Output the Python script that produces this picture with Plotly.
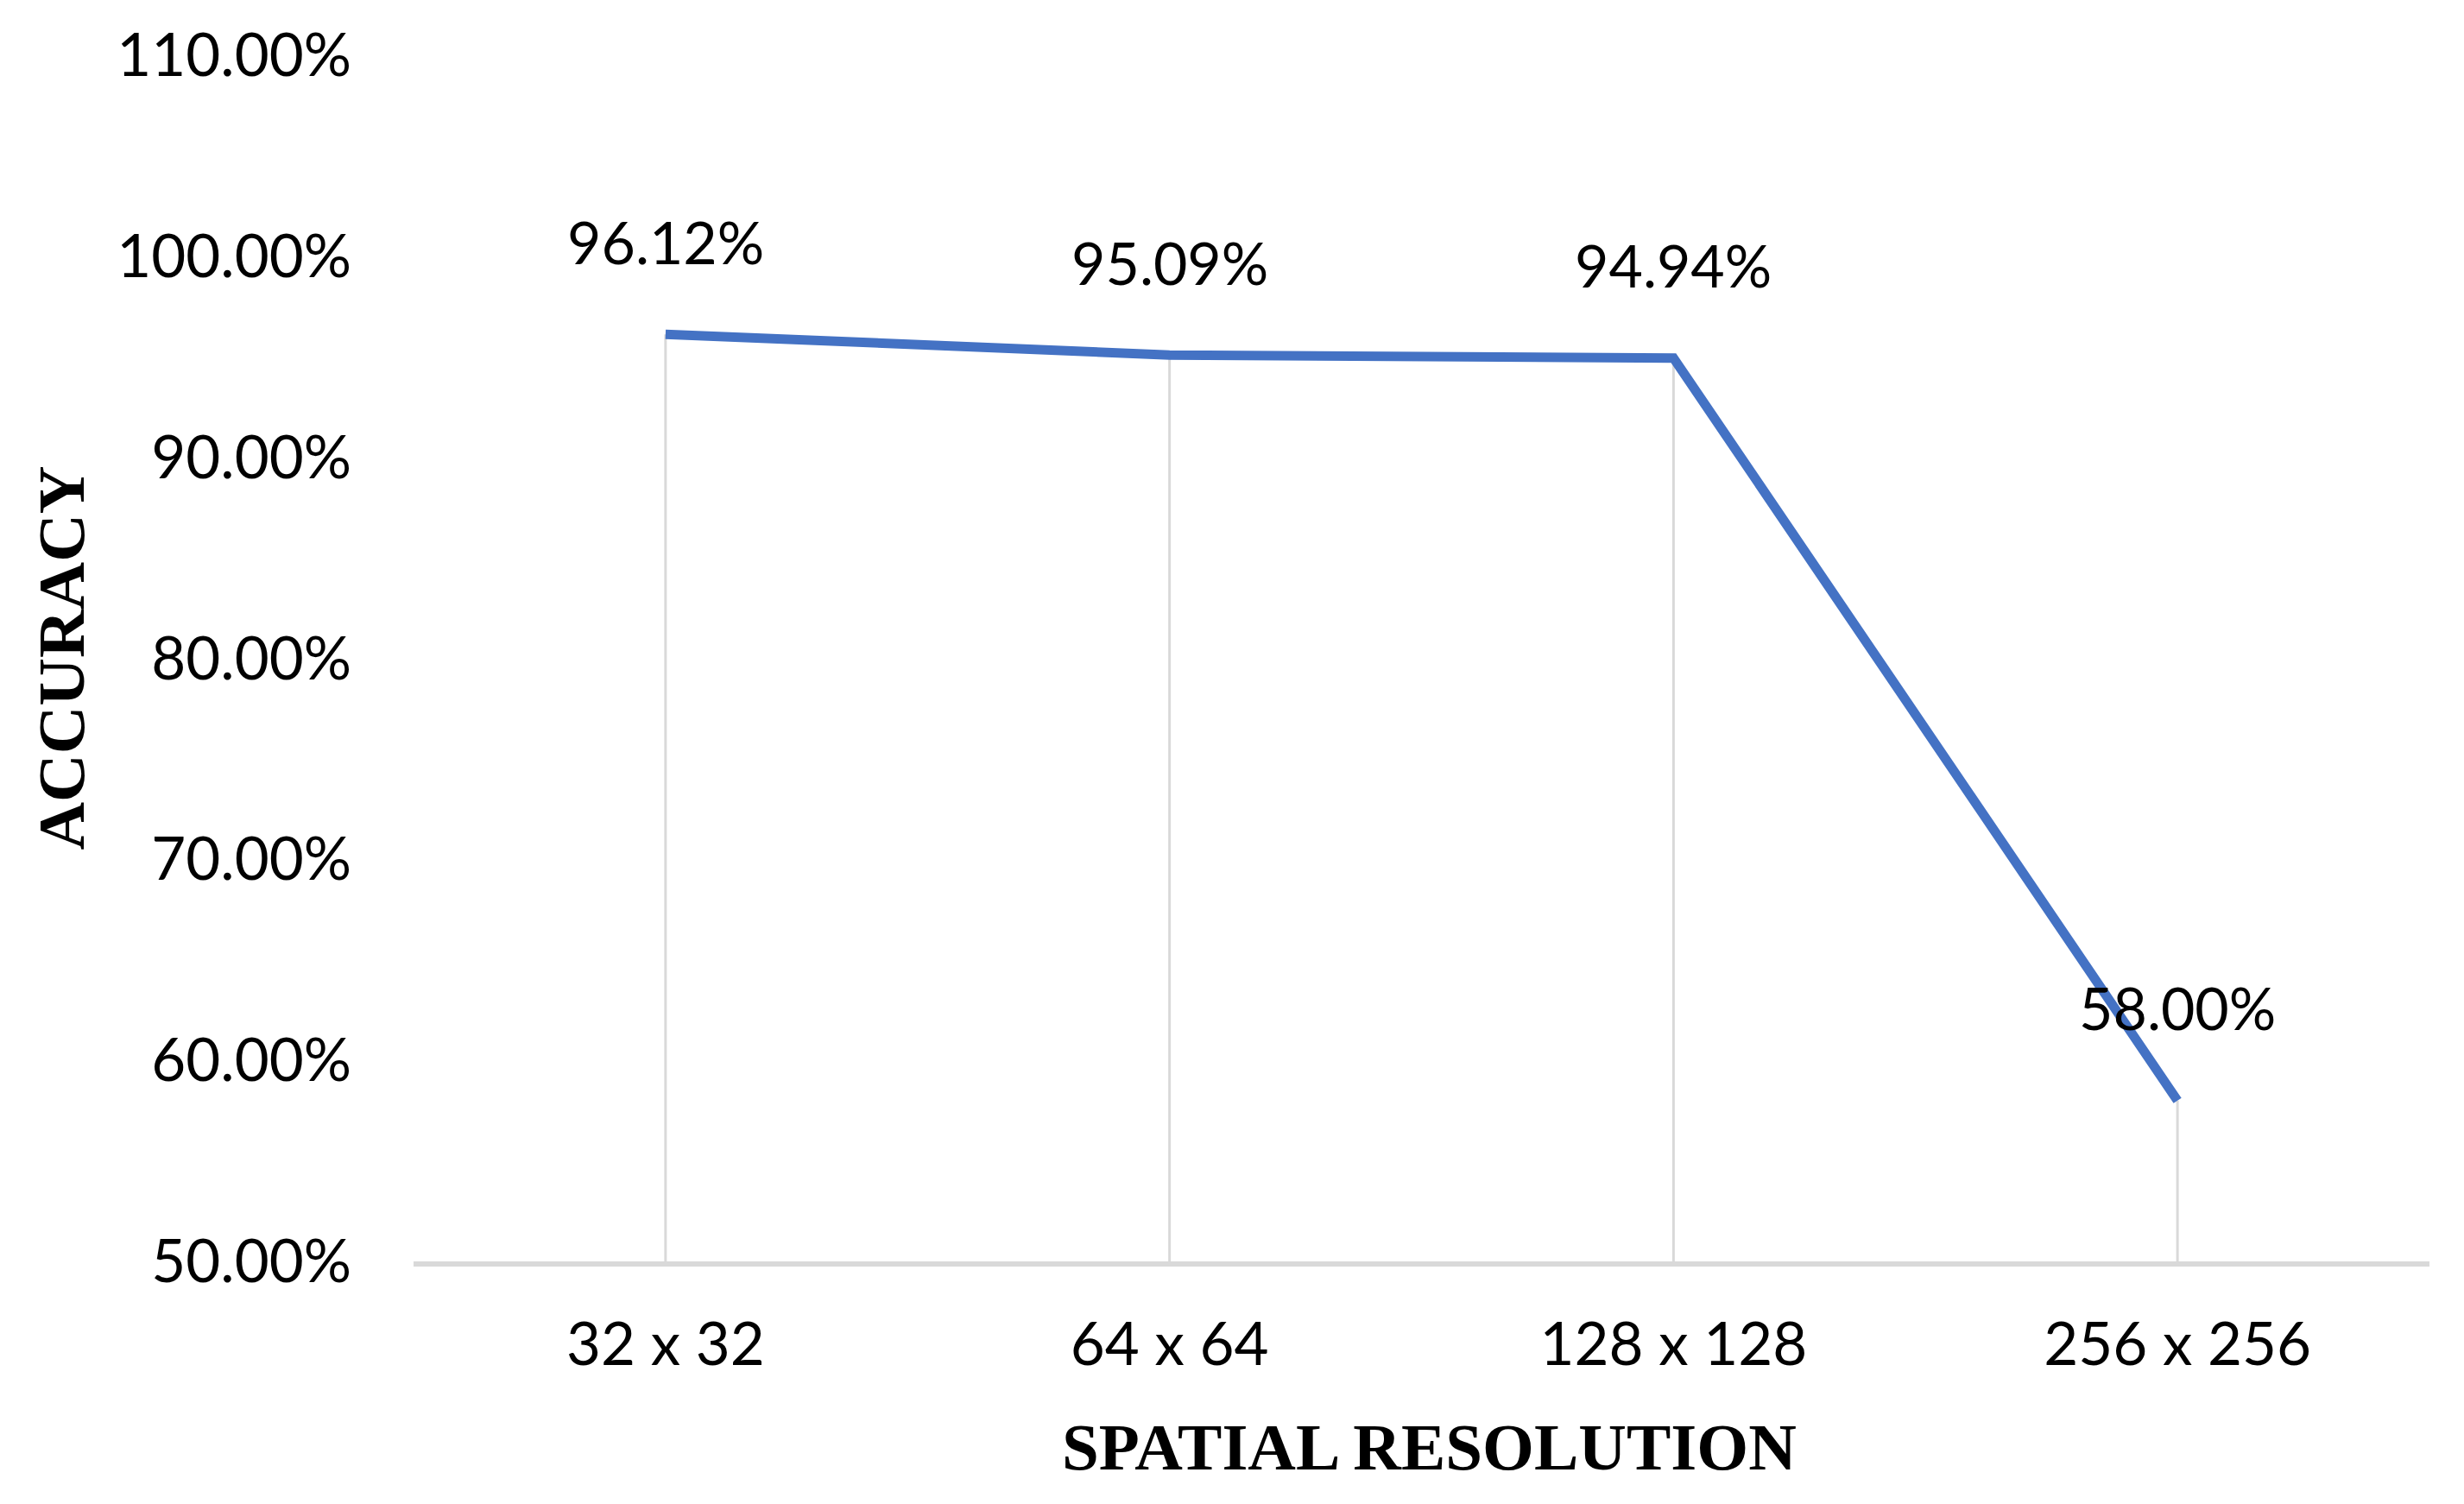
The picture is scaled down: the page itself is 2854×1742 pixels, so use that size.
import plotly.graph_objects as go

categories = ["32 x 32", "64 x 64", "128 x 128", "256 x 256"]
accuracy = [0.9612, 0.9509, 0.9494, 0.5800]
y_min = 0.5
y_max = 1.1

W, H = 2854, 1742
L, R, T, B = 471, 48, 51, 289

drop_x, drop_y = [], []
for c, v in zip(categories, accuracy):
    drop_x += [c, c, None]
    drop_y += [y_min, v, None]

fig = go.Figure()
fig.add_trace(go.Scatter(x=drop_x, y=drop_y, mode="lines",
                         line=dict(color="#d9d9d9", width=3),
                         hoverinfo="skip", showlegend=False))
fig.add_trace(go.Scatter(x=categories, y=accuracy, mode="lines",
                         line=dict(color="#4472C4", width=11),
                         showlegend=False))

lab_font = dict(family="Lato, Open Sans, sans-serif", size=68, color="#000000")
tick_font = dict(family="Lato, Open Sans, sans-serif", size=69, color="#000000")
for c, v in zip(categories, accuracy):
    fig.add_annotation(x=c, y=v, text=f"{v*100:.2f}%", showarrow=False,
                       yshift=108, font=lab_font, xanchor="center", yanchor="middle")

title_font = dict(family="Liberation Serif, Times New Roman, serif", size=77, color="#000000")
fig.add_annotation(xref="paper", yref="paper", x=(1647 - L) / (W - L - R),
                   y=-(1669 - (H - B)) / (H - T - B), text="<b>SPATIAL RESOLUTION</b>",
                   showarrow=False, font=title_font, xanchor="center", yanchor="middle")
fig.add_annotation(xref="paper", yref="paper", x=(62 - L) / (W - L - R),
                   y=((H - B) - 752) / (H - T - B), text="<b>ACCURACY</b>", textangle=-90,
                   showarrow=False, font=title_font, xanchor="center", yanchor="middle")

fig.update_layout(
    width=W, height=H,
    margin=dict(l=L, r=R, t=T, b=B, pad=0),
    paper_bgcolor="white", plot_bgcolor="white",
    xaxis=dict(type="category", categoryorder="array", categoryarray=categories,
               range=[-0.5, len(categories) - 0.5], showgrid=False, zeroline=False,
               showline=True, linecolor="#d9d9d9", linewidth=6, ticks="",
               tickfont=tick_font, ticklabelstandoff=31),
    yaxis=dict(range=[y_min, y_max], dtick=0.1, tick0=0.5, tickformat=".2%",
               showgrid=False, zeroline=False, showline=False, ticks="",
               tickfont=tick_font, ticklabelstandoff=71),
)

fig.write_html("out.html")
